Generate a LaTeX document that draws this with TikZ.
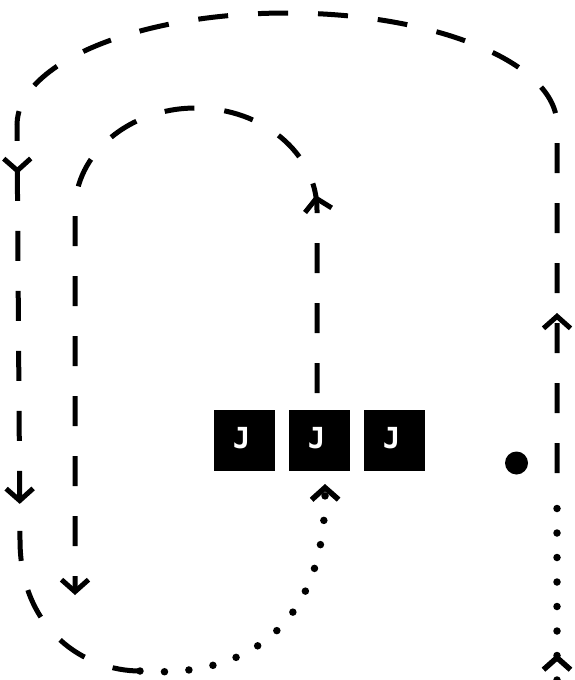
\documentclass[tikz,border=0pt]{standalone}
\usepackage{fontspec}
\newfontfamily\jfont{DejaVu Sans Mono}
\usetikzlibrary{arrows.meta,decorations.markings}
\tikzset{
  tipx/.tip={Straight Barb[length=12pt,width=27pt]},
  dashline/.style={line width=5pt,dash pattern=on 30pt off 30pt},
  dotline/.style={line width=7.5pt,line cap=round,dash pattern=on 0pt off 24.5pt},
  jbox/.style={fill=black,minimum size=61pt,inner sep=0pt},
  jtext/.style={text=white,inner sep=0pt,font=\jfont\bfseries\fontsize{29}{29}\selectfont},
  midtips/.style={postaction={decorate},decoration={markings,#1}},
}
\begin{document}
\begin{tikzpicture}[x=1pt,y=-1pt]
\useasboundingbox (0,0) rectangle (574,680);
\node[jbox] (b1) at (244.5,440.5) {};
\node[jbox] (b2) at (319.5,440.5) {};
\node[jbox] (b3) at (394.5,440.5) {};
\node[jtext] (j1) at ([xshift=-3pt,yshift=2pt]b1.center) {J};
\node[jtext] (j2) at ([xshift=-3pt,yshift=2pt]b2.center) {J};
\node[jtext] (j3) at ([xshift=-3pt,yshift=2pt]b3.center) {J};
\node[circle,fill=black,minimum size=23pt,inner sep=0pt] (dot) at (516.5,463) {};
% coordinates
\coordinate (itop) at (317,410);
\coordinate (iend) at (75,595);
\coordinate (rbot) at (557,680);
\coordinate (rmid) at (557,488);
\coordinate (rdash) at (557,480);
\coordinate (bl) at (140,671);
\coordinate (ibot) at (325,484);
% inner loop
\draw[dashline,dash phase=43pt,-tipx,
  midtips={mark=at position 215pt with {\arrow{tipx}}}]
  (itop) -- (317,210) arc[start angle=0,end angle=180,x radius=121pt,y radius=102pt]
  -- (iend);
% outer loop, dashed part
\draw[dashline,dash phase=53pt,
  midtips={mark=at position 167pt with {\arrow{tipx}},
           mark=at position 1030pt with {\arrow{tipx}},
           mark=at position 1360pt with {\arrow{tipx}}}]
  (rdash) -- (557,125) arc[start angle=0,end angle=180,x radius=270pt,y radius=112pt]
  -- (20,540) .. controls (20,630) and (85,671) .. (bl);
% outer loop, dotted bottom part
\draw[dotline,-{tipx[line width=5.5pt]}] (bl) .. controls (230,678) and (326,640) .. (ibot);
% right dotted part
\draw[dotline,midtips={mark=at position 26pt with {\arrow{tipx[line width=5.5pt]}}}] (rbot) -- (rmid);
\end{tikzpicture}
\end{document}
